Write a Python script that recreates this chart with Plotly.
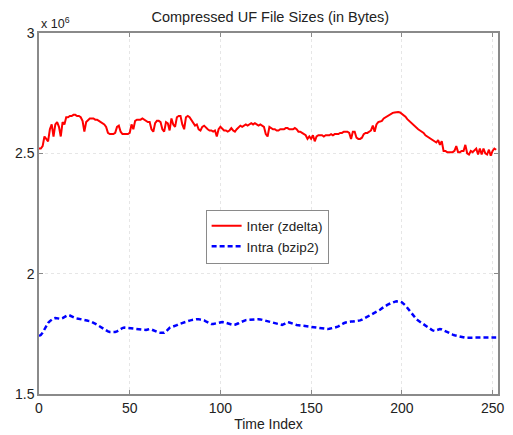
import plotly.graph_objects as go

# Time index 0..252
time_index = list(range(253))

# Compressed sizes, in millions of bytes (axis shows x 10^6)
inter_zdelta = [
    2.52, 2.52, 2.53, 2.57, 2.56, 2.55, 2.60, 2.62, 2.57, 2.62,
    2.63, 2.61, 2.57, 2.63, 2.62, 2.65, 2.65, 2.655, 2.655, 2.66,
    2.66, 2.655, 2.655, 2.65, 2.635, 2.59, 2.63, 2.64, 2.645, 2.645,
    2.645, 2.64, 2.64, 2.635, 2.63, 2.625, 2.62, 2.61, 2.585, 2.58,
    2.58, 2.58, 2.585, 2.61, 2.615, 2.59, 2.58, 2.58, 2.58, 2.58,
    2.585, 2.62, 2.60, 2.635, 2.64, 2.64, 2.64, 2.645, 2.64, 2.635,
    2.63, 2.63, 2.60, 2.59, 2.625, 2.635, 2.635, 2.63, 2.60, 2.59,
    2.63, 2.625, 2.595, 2.645, 2.62, 2.61, 2.65, 2.655, 2.655, 2.62,
    2.60, 2.65, 2.655, 2.65, 2.64, 2.63, 2.615, 2.62, 2.60, 2.595,
    2.61, 2.615, 2.605, 2.60, 2.595, 2.595, 2.59, 2.595, 2.57, 2.60,
    2.61, 2.60, 2.595, 2.595, 2.59, 2.595, 2.605, 2.595, 2.59, 2.60,
    2.61, 2.615, 2.61, 2.615, 2.62, 2.615, 2.62, 2.625, 2.62, 2.625,
    2.62, 2.615, 2.62, 2.615, 2.61, 2.58, 2.57, 2.61, 2.605, 2.60,
    2.60, 2.595, 2.595, 2.60, 2.60, 2.60, 2.605, 2.605, 2.60, 2.60,
    2.60, 2.605, 2.60, 2.59, 2.59, 2.585, 2.58, 2.575, 2.56, 2.57,
    2.56, 2.575, 2.55, 2.57, 2.575, 2.575, 2.575, 2.57, 2.575, 2.575,
    2.575, 2.58, 2.575, 2.58, 2.58, 2.58, 2.585, 2.585, 2.59, 2.59,
    2.59, 2.585, 2.56, 2.59, 2.59, 2.565, 2.56, 2.56, 2.565, 2.58,
    2.585, 2.585, 2.59, 2.595, 2.615, 2.59, 2.62, 2.63, 2.632, 2.635,
    2.645, 2.65, 2.655, 2.66, 2.665, 2.668, 2.67, 2.672, 2.672, 2.67,
    2.665, 2.66, 2.652, 2.642, 2.635, 2.628, 2.62, 2.61, 2.605, 2.60,
    2.595, 2.59, 2.585, 2.575, 2.57, 2.565, 2.56, 2.555, 2.55, 2.545,
    2.555, 2.535, 2.55, 2.51, 2.51, 2.505, 2.505, 2.505, 2.505, 2.51,
    2.53, 2.505, 2.505, 2.51, 2.51, 2.535, 2.50, 2.495, 2.51, 2.505,
    2.515, 2.52, 2.495, 2.52, 2.495, 2.52, 2.50, 2.495, 2.515, 2.49,
    2.51, 2.52, 2.515,
]

intra_bzip2 = [
    1.742, 1.745, 1.755, 1.770, 1.785, 1.795, 1.803, 1.810, 1.814, 1.816,
    1.815, 1.813, 1.812, 1.815, 1.820, 1.825, 1.828, 1.826, 1.822, 1.818,
    1.816, 1.814, 1.812, 1.809, 1.807, 1.806, 1.805, 1.804, 1.803, 1.800,
    1.796, 1.792, 1.788, 1.783, 1.778, 1.773, 1.768, 1.763, 1.760, 1.758,
    1.757, 1.757, 1.758, 1.760, 1.765, 1.770, 1.774, 1.776, 1.775, 1.773,
    1.772, 1.771, 1.770, 1.770, 1.769, 1.768, 1.767, 1.766, 1.766, 1.766,
    1.768, 1.770, 1.768, 1.764, 1.760, 1.757, 1.755, 1.754, 1.754, 1.754,
    1.760, 1.768, 1.775, 1.778, 1.780, 1.783, 1.786, 1.790, 1.793, 1.796,
    1.799, 1.801, 1.803, 1.805, 1.807, 1.809, 1.810, 1.811, 1.811, 1.810,
    1.808, 1.806, 1.802, 1.798, 1.794, 1.791, 1.791, 1.793, 1.795, 1.797,
    1.799, 1.799, 1.798, 1.796, 1.793, 1.790, 1.788, 1.787, 1.788, 1.790,
    1.794, 1.798, 1.802, 1.805, 1.807, 1.808, 1.809, 1.810, 1.810, 1.811,
    1.811, 1.811, 1.810, 1.808, 1.806, 1.803, 1.801, 1.799, 1.797, 1.795,
    1.793, 1.791, 1.789, 1.787, 1.787, 1.790, 1.795, 1.799, 1.797, 1.794,
    1.791, 1.789, 1.787, 1.786, 1.785, 1.783, 1.781, 1.780, 1.778, 1.777,
    1.776, 1.775, 1.774, 1.773, 1.772, 1.771, 1.771, 1.770, 1.770, 1.770,
    1.771, 1.772, 1.774, 1.776, 1.778, 1.781, 1.786, 1.790, 1.794, 1.797,
    1.799, 1.800, 1.801, 1.801, 1.802, 1.803, 1.803, 1.806, 1.809, 1.813,
    1.817, 1.820, 1.824, 1.828, 1.832, 1.836, 1.840, 1.844, 1.850, 1.856,
    1.862, 1.866, 1.870, 1.874, 1.878, 1.881, 1.883, 1.885, 1.885, 1.884,
    1.881, 1.876, 1.868, 1.858, 1.848, 1.838, 1.828, 1.818, 1.811, 1.805,
    1.800, 1.795, 1.789, 1.783, 1.778, 1.773, 1.768, 1.764, 1.762, 1.764,
    1.767, 1.770, 1.768, 1.764, 1.760, 1.757, 1.753, 1.750, 1.747, 1.744,
    1.742, 1.740, 1.738, 1.736, 1.735, 1.734, 1.734, 1.734, 1.734, 1.734,
    1.734, 1.734, 1.734, 1.734, 1.734, 1.734, 1.734, 1.734, 1.734, 1.734,
    1.734, 1.734, 1.735,
]

x_ticks = [0, 50, 100, 150, 200, 250]
y_ticks = [1.5, 2.0, 2.5, 3.0]
y_tick_labels = ["1.5", "2", "2.5", "3"]

FONT = "Liberation Sans, Arial, sans-serif"

fig = go.Figure()
fig.add_trace(go.Scatter(
    x=time_index, y=inter_zdelta, mode="lines", name="Inter (zdelta)",
    line=dict(color="#ff0000", width=2),
))
fig.add_trace(go.Scatter(
    x=time_index, y=intra_bzip2, mode="lines", name="Intra (bzip2)",
    line=dict(color="#0000ff", width=2.5, dash="5px,3px"),
))

axis_common = dict(
    showline=True, linecolor="#8a8a8a", linewidth=1.5, mirror="ticks",
    ticks="inside", ticklen=4, tickcolor="#8a8a8a",
    showgrid=True, gridcolor="#e6e6e6", griddash="dot", gridwidth=1,
    zeroline=False, tickfont=dict(family=FONT, size=14, color="#222222"),
)

fig.update_layout(
    width=513, height=435,
    margin=dict(l=39, r=9, t=33, b=36),
    paper_bgcolor="white", plot_bgcolor="white",
    font=dict(family=FONT, color="#222222"),
    title=dict(text="Compressed UF File Sizes (in Bytes)",
               font=dict(family=FONT, size=14.5, color="#222222"),
               x=0.527, xanchor="center", y=0.962, yanchor="middle"),
    xaxis=dict(range=[0, 253], tickvals=x_ticks,
               title=dict(text="Time Index", font=dict(family=FONT, size=14), standoff=1),
               **axis_common),
    yaxis=dict(range=[1.5, 3.0], tickvals=y_ticks, ticktext=y_tick_labels,
               **axis_common),
    legend=dict(x=0.363, y=0.511, xanchor="left", yanchor="top",
                bgcolor="white", bordercolor="#8a8a8a", borderwidth=1,
                font=dict(family=FONT, size=13.5, color="#222222"),
                tracegroupgap=0, itemwidth=30),
    showlegend=True,
)

fig.add_annotation(
    text="x 10<sup>6</sup>", xref="paper", yref="paper", x=0.0, y=1.0,
    xanchor="left", yanchor="bottom", showarrow=False,
    font=dict(family=FONT, size=12.5, color="#222222"), yshift=0,
)

fig.write_html("out.html")
